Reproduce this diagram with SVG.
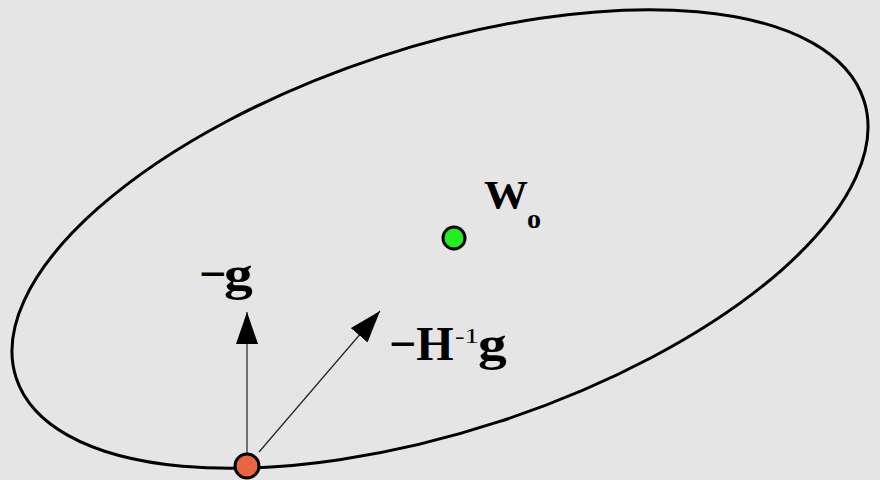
<svg xmlns="http://www.w3.org/2000/svg" width="880" height="480" viewBox="0 0 880 480">
<style>
.lbl{font-family:"Liberation Serif","Times New Roman",serif;font-weight:bold;fill:#000}
.sup{font-family:"Liberation Serif","Times New Roman",serif;fill:#000}
.vec{stroke:#222;stroke-width:1.2;fill:none}
</style>
<defs>
<marker id="ah" viewBox="0 0 32 22" refX="32" refY="11" markerWidth="32" markerHeight="22" markerUnits="userSpaceOnUse" orient="auto">
<path d="M0,0 L32,11 L0,22 Z" fill="#000"/>
</marker>
</defs>
<rect width="880" height="480" fill="#e5e5e5"/>
<g id="contour">
<ellipse cx="440" cy="239" rx="446" ry="192" transform="rotate(-18.15 440 239)" fill="none" stroke="#000" stroke-width="3"/>
</g>
<g id="connectors">
<line class="vec" x1="247" y1="455" x2="247" y2="312" marker-end="url(#ah)"/>
<line class="vec" x1="259" y1="452" x2="380" y2="311" marker-end="url(#ah)"/>
</g>
<g id="w0">
<circle cx="454" cy="238" r="11" fill="#22ee22" stroke="#000" stroke-width="3"/>
<text class="lbl" font-size="40" transform="translate(484 208) scale(1.1 1)">W</text>
<text class="lbl" x="527" y="228" font-size="28">o</text>
</g>
<g id="start">
<circle cx="247" cy="466" r="12" fill="#ea6440" stroke="#000" stroke-width="3"/>
</g>
<g id="label-g">
<text class="lbl" x="199" y="290" font-size="48">−</text>
<text class="lbl" font-size="48" transform="translate(224 290) scale(1.2 1)">g</text>
</g>
<g id="label-hg">
<text class="lbl" x="389" y="360" font-size="48">−H</text>
<text class="sup" font-size="22" transform="translate(455 343) scale(1.3 1)">-1</text>
<text class="lbl" font-size="48" transform="translate(478 360) scale(1.2 1)">g</text>
</g>
</svg>
